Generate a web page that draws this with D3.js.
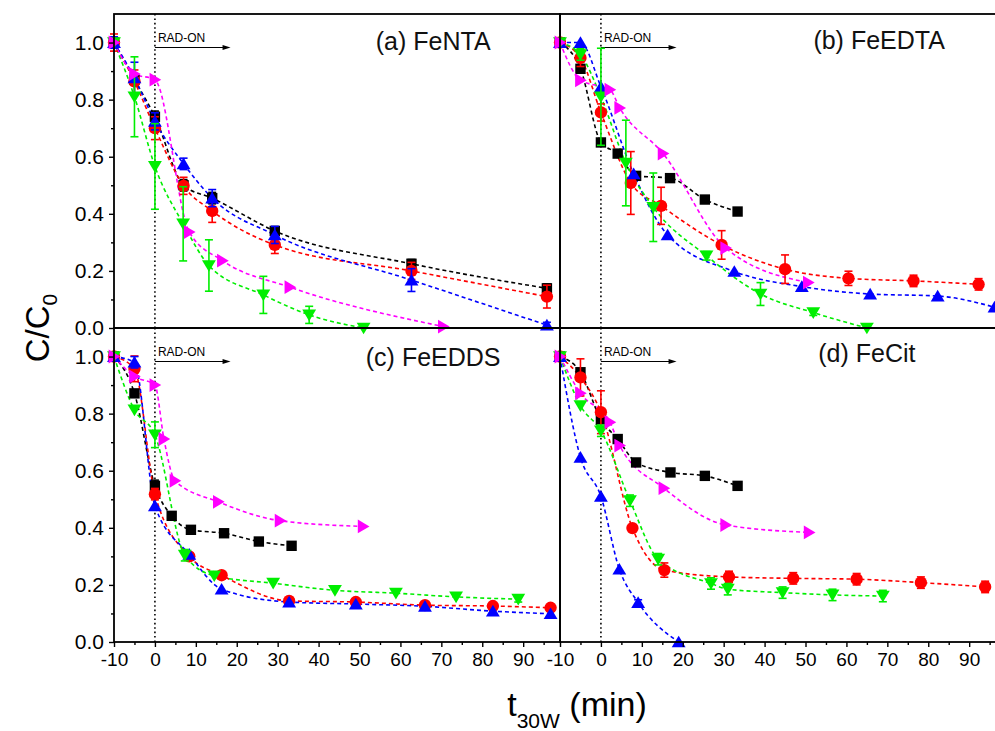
<!DOCTYPE html>
<html><head><meta charset="utf-8">
<script src="https://cdn.jsdelivr.net/npm/d3@7"></script>
<style>body{margin:0;background:#fff;} svg{display:block;}</style>
</head><body><svg id="c" width="995" height="731"></svg>
<script>
// ---- data: [t (min), C/C0, error] ----
const panelTitles = ["(a) FeNTA", "(b) FeEDTA", "(c) FeEDDS", "(d) FeCit"];
const xTicks = [-10, 0, 10, 20, 30, 40, 50, 60, 70, 80, 90];
const yTicks = [0, 0.2, 0.4, 0.6, 0.8, 1.0];

const a_black = [[-10,1,0.01],[-5,0.87,0.02],[0,0.74,0.02],[7,0.50,0.02],[14,0.455,0.02],[29.3,0.34,0.015],[62.7,0.225,0.015],[95.8,0.139,0.015]];
const a_red   = [[-10,1,0.03],[-5,0.864,0.04],[0,0.70,0.04],[7,0.498,0.03],[14,0.41,0.04],[29.3,0.291,0.03],[62.7,0.20,0.03],[95.8,0.11,0.04]];
const a_blue  = [[-10,1,0.02],[-5,0.876,0.055],[0,0.724,0.03],[7,0.575,0.02],[14,0.455,0.03],[29.3,0.326,0.03],[62.7,0.168,0.04],[95.8,0.01,0.01]];
const a_green = [[-10,1,0],[-5,0.81,0.14],[0,0.566,0.15],[6.9,0.365,0.13],[13.2,0.219,0.09],[26.5,0.116,0.065],[37.7,0.046,0.03],[51,0.0,0]];
const a_mag   = [[-10,1,0],[-5,0.89,0],[0,0.87,0],[8.4,0.336,0],[16.5,0.236,0],[33,0.143,0],[70.5,0.005,0]];

const b_black = [[-10,1,0],[-5,0.908,0],[0,0.65,0],[4.1,0.611,0],[8.6,0.533,0],[16.9,0.525,0],[25.4,0.45,0],[33.4,0.408,0]];
const b_red   = [[-10,1,0],[-5,0.946,0.03],[0,0.755,0.03],[7.3,0.508,0.11],[14.7,0.428,0.065],[29.5,0.291,0.05],[45,0.206,0.05],[60.5,0.174,0.025],[76.4,0.165,0.02],[92.3,0.153,0.02]];
const b_blue  = [[-10,1,0],[-5,1.0,0],[0,0.845,0],[8,0.54,0],[16.3,0.326,0],[32.6,0.198,0],[49.1,0.145,0],[65.8,0.119,0],[82.3,0.112,0],[96.2,0.073,0]];
const b_green = [[-10,1,0],[-5,0.958,0.02],[0,0.81,0.17],[6.1,0.578,0.15],[12.8,0.423,0.12],[25.8,0.253,0.015],[39,0.119,0.04],[51.9,0.054,0.01],[65,0.0,0]];
const b_mag   = [[-10,1,0],[-5,0.868,0],[2.2,0.835,0],[4.6,0.771,0],[15.2,0.611,0],[30.5,0.28,0],[50.7,0.159,0]];

const c_black = [[-10,1,0],[-5,0.871,0.01],[0,0.547,0.02],[4.1,0.442,0],[8.8,0.393,0],[16.9,0.381,0],[25.4,0.352,0],[33.4,0.337,0]];
const c_red   = [[-10,1,0],[-5,0.957,0.045],[0,0.518,0.02],[8.4,0.30,0],[16.3,0.234,0],[32.8,0.144,0.01],[49.1,0.14,0],[66,0.129,0],[82.6,0.126,0],[96.7,0.12,0]];
const c_blue  = [[-10,1,0],[-5,0.98,0.02],[0,0.477,0],[8.4,0.307,0],[16.3,0.185,0],[32.8,0.14,0],[49.1,0.133,0],[66,0.125,0],[82.6,0.108,0],[96.7,0.099,0]];
const c_green = [[-10,1,0],[-5,0.813,0],[0,0.726,0.045],[7.3,0.304,0.02],[14.5,0.232,0],[28.9,0.206,0],[44,0.181,0],[58.9,0.171,0],[73.6,0.158,0],[88.8,0.15,0.01]];
const c_mag   = [[-10,1,0],[-5,0.93,0],[0,0.90,0],[2.2,0.711,0],[4.9,0.565,0],[15.5,0.491,0],[30.6,0.425,0],[50.9,0.405,0]];

const d_black = [[-10,1,0],[-5,0.945,0],[0,0.78,0],[4.1,0.711,0],[8.6,0.629,0],[17,0.594,0],[25.4,0.582,0],[33.4,0.547,0]];
const d_red   = [[-10,1,0],[-5,0.927,0.065],[0,0.805,0.075],[7.7,0.399,0],[15.5,0.252,0.025],[31.3,0.228,0.02],[47,0.223,0.02],[62.5,0.22,0.02],[78.2,0.208,0.02],[93.9,0.193,0.02]];
const d_blue  = [[-10,1,0],[-5,0.647,0],[0,0.51,0],[4.5,0.255,0],[9.1,0.138,0.01],[19,0.0,0]];
const d_green = [[-10,1,0],[-5,0.828,0],[0,0.74,0.02],[7.1,0.495,0.02],[14,0.29,0.02],[26.9,0.205,0.02],[31,0.185,0.02],[44.4,0.173,0.02],[56.6,0.165,0.02],[68.9,0.161,0.02]];
const d_mag   = [[-10,1,0],[-5,0.871,0],[2.2,0.77,0],[4.6,0.688,0],[15.4,0.539,0],[30.5,0.41,0],[50.9,0.384,0]];

const panelsData = [
  [a_black, a_red, a_blue, a_green, a_mag],
  [b_black, b_red, b_blue, b_green, b_mag],
  [c_black, c_red, c_blue, c_green, c_mag],
  [d_black, d_red, d_blue, d_green, d_mag]
];
const seriesColors = ["#000000", "#ff0000", "#0000ff", "#00ee00", "#ff00ff"];
const seriesShapes = ["square", "circle", "up", "down", "right"];

// ---- layout ----
const svg = d3.select("#c");
const L = 114, T = 14, PW = 446, PH = 314;
const x = d3.scaleLinear().domain([-10, 99]).range([0, PW]);
const y = d3.scaleLinear().domain([0, 1.1]).range([PH, 0]);
const titleX = [68, 68, 68, 65];
const titleY = [36, 35, 38, 34];

function symbolPath(shape) {
  const s = 6.3;
  if (shape === "square") return `M-5.2,-5.2h10.4v10.4h-10.4z`;
  if (shape === "circle") return d3.symbol(d3.symbolCircle, 120)();
  if (shape === "up") return `M0,${-s}L${s*1.1},${s*0.85}L${-s*1.1},${s*0.85}Z`;
  if (shape === "down") return `M0,${s}L${s*1.1},${-s*0.85}L${-s*1.1},${-s*0.85}Z`;
  if (shape === "right") return `M${s},0L${-s*0.85},${-s*1.1}L${-s*0.85},${s*1.1}Z`;
}

const font = "Arial, 'Liberation Sans', sans-serif";

panelsData.forEach((series, pi) => {
  const col = pi % 2, row = Math.floor(pi / 2);
  const g = svg.append("g").attr("transform", `translate(${L + col * PW},${T + row * PH})`);

  // dotted RAD-ON line
  g.append("line").attr("x1", x(0)).attr("x2", x(0)).attr("y1", 0).attr("y2", PH)
    .attr("stroke", "#000").attr("stroke-width", 1.6).attr("stroke-dasharray", "1.6,2.8");

  // RAD-ON label + arrow
  g.append("text").attr("x", x(0) + 3).attr("y", 27.5).text("RAD-ON")
    .attr("font-family", font).attr("font-size", 12).attr("fill", "#000");
  g.append("line").attr("x1", x(0)).attr("x2", x(18)).attr("y1", 33.5).attr("y2", 33.5)
    .attr("stroke", "#000").attr("stroke-width", 1.1);
  g.append("path").attr("d", `M${x(18)+2},33.5 l-8,-2.5 v5 z`).attr("fill", "#000");

  // title
  g.append("text").attr("x", x(titleX[pi])).attr("y", titleY[pi]).attr("text-anchor", "middle")
    .text(panelTitles[pi]).attr("font-family", font).attr("font-size", 25).attr("fill", "#111");

  // lines
  const line = d3.line().x(d => x(d[0])).y(d => y(d[1])).curve(d3.curveMonotoneX);
  series.forEach((s, si) => {
    g.append("path").attr("d", line(s)).attr("fill", "none")
      .attr("stroke", seriesColors[si]).attr("stroke-width", 1.6).attr("stroke-dasharray", "4,3");
  });
  // error bars + markers
  series.forEach((s, si) => {
    const c = seriesColors[si];
    s.filter(d => d[2] > 0).forEach(d => {
      const y1 = y(d[1] + d[2]), y2 = y(d[1] - d[2]), xx = x(d[0]);
      g.append("line").attr("x1", xx).attr("x2", xx).attr("y1", y1).attr("y2", y2).attr("stroke", c).attr("stroke-width", 1.6);
      g.append("line").attr("x1", xx - 4).attr("x2", xx + 4).attr("y1", y1).attr("y2", y1).attr("stroke", c).attr("stroke-width", 1.6);
      g.append("line").attr("x1", xx - 4).attr("x2", xx + 4).attr("y1", y2).attr("y2", y2).attr("stroke", c).attr("stroke-width", 1.6);
    });
    g.selectAll(null).data(s).join("path")
      .attr("d", symbolPath(seriesShapes[si]))
      .attr("transform", d => `translate(${x(d[0])},${y(d[1])})`)
      .attr("fill", c);
  });

  // frame
  g.append("rect").attr("x", 0).attr("y", 0).attr("width", PW).attr("height", PH)
    .attr("fill", "none").attr("stroke", "#000").attr("stroke-width", 1.8);

  // left axis (column 0, with labels)
  if (col === 0) {
    const ya = d3.axisLeft(y).tickValues(yTicks).tickFormat(d3.format(".1f")).tickSize(5).tickPadding(5);
    const ag = g.append("g").call(ya);
    ag.select(".domain").remove();
    ag.selectAll("line").attr("stroke-width", 1.4);
    ag.selectAll("text").attr("font-family", font).attr("font-size", 21).attr("fill", "#000");
    g.append("g").call(d3.axisLeft(y).tickValues(d3.range(0.1, 1.1, 0.2)).tickSize(3).tickFormat(""))
      .call(s => { s.select(".domain").remove(); s.selectAll("line").attr("stroke-width", 1.4); });
  }
  // bottom axis (row 1)
  if (row === 1) {
    const xa = d3.axisBottom(x).tickValues(xTicks).tickFormat(d => String(d)).tickSize(5).tickPadding(6);
    const bg = g.append("g").attr("transform", `translate(0,${PH})`).call(xa);
    bg.select(".domain").remove();
    bg.selectAll("line").attr("stroke-width", 1.4);
    bg.selectAll("text").attr("font-family", font).attr("font-size", 19).attr("fill", "#000");
    g.append("g").attr("transform", `translate(0,${PH})`)
      .call(d3.axisBottom(x).tickValues(d3.range(-5, 99, 10)).tickSize(3).tickFormat(""))
      .call(s => { s.select(".domain").remove(); s.selectAll("line").attr("stroke-width", 1.4); });
  }
});

// Axis titles
const yl = svg.append("text").attr("transform", "translate(49,328) rotate(-90)")
  .attr("text-anchor", "middle").attr("font-family", font).attr("font-size", 33).attr("fill", "#000");
yl.append("tspan").text("C/C");
yl.append("tspan").text("0").attr("font-size", 21).attr("dy", 8);

const xl = svg.append("text").attr("x", 577).attr("y", 716)
  .attr("text-anchor", "middle").attr("font-family", font).attr("font-size", 34).attr("fill", "#000");
xl.append("tspan").text("t");
xl.append("tspan").text("30W").attr("font-size", 21).attr("dy", 12);
xl.append("tspan").text(" (min)").attr("dy", -12);
</script></body></html>
